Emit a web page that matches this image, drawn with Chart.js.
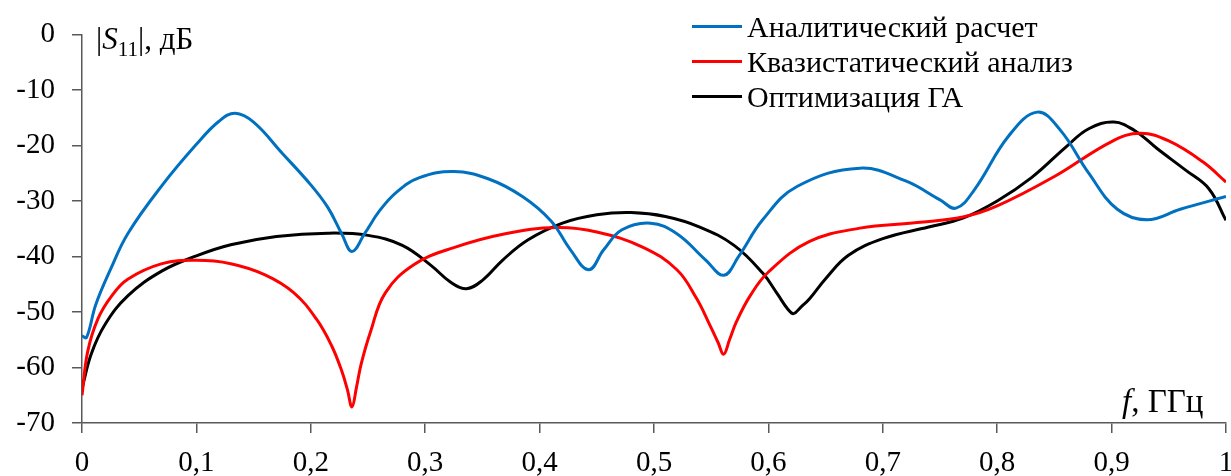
<!DOCTYPE html>
<html>
<head>
<meta charset="utf-8">
<script src="https://cdn.jsdelivr.net/npm/chart.js@4/dist/chart.umd.min.js"></script>
<style>
  body { margin: 0; background: #fff; }
  #wrap { position: relative; width: 1231px; height: 476px; font-family: "Liberation Serif", "Times New Roman", serif; color: #000; }
  #chart { position: absolute; left: 0; top: 0; }
  .ttl { position: absolute; font-size: 31px; line-height: 1; white-space: nowrap; }
  #legend { position: absolute; left: 692px; top: 9px; }
  .row { height: 35px; display: flex; align-items: center; font-size: 30px; white-space: nowrap; }
  .row span.ln { display: inline-block; width: 50px; height: 3px; margin-right: 5px; }
</style>
</head>
<body>
<div id="wrap">
  <canvas id="chart" width="1231" height="476"></canvas>
  <div class="ttl" id="ytitle" style="left:96px; top:23px;">|<i>S</i><sub style="font-size:21px">11</sub>|, дБ</div>
  <div class="ttl" id="xtitle" style="left:1122px; top:385px; font-size:33px;"><i>f</i>, ГГц</div>
  <div id="legend"></div>
</div>
<script>
var seriesNames = ["Аналитический расчет", "Квазистатический анализ", "Оптимизация ГА"];
var seriesColors = ["#0070C0", "#FF0000", "#000000"];

var xTickLabels = ["0", "0,1", "0,2", "0,3", "0,4", "0,5", "0,6", "0,7", "0,8", "0,9", "1"];
var yTickLabels = ["-70", "-60", "-50", "-40", "-30", "-20", "-10", "0"];

// аналитический расчет
var analyticF = [0, 0.004, 0.012, 0.025, 0.04, 0.07, 0.1, 0.12, 0.134, 0.15,
    0.175, 0.2, 0.215, 0.227, 0.236, 0.247, 0.26, 0.275, 0.295, 0.325,
    0.355, 0.385, 0.41, 0.427, 0.443, 0.456, 0.472, 0.497, 0.52, 0.545,
    0.561, 0.574, 0.595, 0.625, 0.68, 0.72, 0.75, 0.764, 0.78, 0.81,
    0.835, 0.855, 0.88, 0.905, 0.931, 0.96, 1];
var analyticS = [-54.3, -54.6, -48.7, -42.3, -35.9, -27.2, -19.8, -15.6, -14.2, -15.8,
    -21.4, -27.1, -31.2, -35.9, -39.1, -35.9, -31.8, -28.4, -25.8, -24.7,
    -26.0, -29.2, -33.6, -38.8, -42.4, -38.8, -35.2, -34.0, -35.9, -40.6,
    -43.4, -40.0, -33.4, -27.4, -24.1, -26.4, -29.8, -31.3, -28.0, -18.3,
    -14.0, -17.2, -25.0, -31.5, -33.4, -31.5, -29.2];

// квазистатический анализ
var quasiF = [0, 0.005, 0.014, 0.026, 0.04, 0.07, 0.1, 0.13, 0.16, 0.185,
    0.205, 0.218, 0.227, 0.232, 0.236, 0.24, 0.244, 0.252, 0.265, 0.29,
    0.325, 0.37, 0.415, 0.45, 0.49, 0.52, 0.537, 0.548, 0.556, 0.561,
    0.566, 0.572, 0.584, 0.6, 0.636, 0.68, 0.73, 0.77, 0.8, 0.85,
    0.9, 0.925, 0.95, 0.98, 1];
var quasiS = [-65.0, -57.1, -51.2, -47.1, -44.1, -41.3, -40.7, -41.3, -43.3, -46.5,
    -51.3, -56.0, -60.6, -64.0, -67.1, -63.5, -59.4, -53.7, -46.6, -41.5,
    -38.4, -35.9, -34.8, -35.6, -38.3, -42.4, -47.5, -52.0, -55.5, -57.6,
    -55.0, -51.8, -47.1, -42.8, -37.3, -34.9, -33.9, -32.9, -30.9, -25.6,
    -19.3, -17.8, -19.2, -23.0, -26.6];

// оптимизация ГА
var gaF = [0, 0.008, 0.02, 0.04, 0.07, 0.1, 0.13, 0.17, 0.215, 0.25,
    0.28, 0.305, 0.322, 0.336, 0.35, 0.368, 0.39, 0.42, 0.45, 0.48,
    0.51, 0.54, 0.57, 0.595, 0.608, 0.617, 0.622, 0.628, 0.636, 0.65,
    0.67, 0.7, 0.74, 0.77, 0.8, 0.83, 0.86, 0.88, 0.902, 0.92,
    0.94, 0.965, 0.985, 1];
var gaS = [-63.8, -57.6, -52.3, -47.1, -42.6, -39.9, -37.9, -36.4, -35.8, -36.2,
    -38.0, -41.6, -44.6, -45.8, -44.3, -40.6, -37.0, -34.0, -32.5, -32.1,
    -32.8, -34.7, -38.0, -43.0, -46.8, -49.5, -50.3, -49.2, -47.6, -44.0,
    -39.8, -36.8, -34.7, -33.1, -30.0, -25.8, -20.3, -17.0, -15.8, -17.3,
    -20.6, -24.5, -27.8, -33.5];

function toPoints(xs, ys) {
    var pts = [];
    for (var i = 0; i < xs.length; i++) {
        pts.push({ x: xs[i], y: ys[i] });
    }
    return pts;
}

var allF = [analyticF, quasiF, gaF];
var allS = [analyticS, quasiS, gaS];
var datasets = [];
for (var k = 0; k < seriesNames.length; k++) {
    datasets.push({
        label: seriesNames[k],
        data: toPoints(allF[k], allS[k]),
        borderColor: seriesColors[k],
        backgroundColor: seriesColors[k],
        borderWidth: 3,
        pointRadius: 0,
        tension: 0.4,
        fill: false
    });
}

var axisColor = '#595959';
var tickFont = { family: "'Liberation Serif', 'Times New Roman', serif", size: 29 };

var ctx = document.getElementById('chart').getContext('2d');
var myChart = new Chart(ctx, {
    type: 'line',
    data: { datasets: datasets },
    options: {
        responsive: false,
        animation: false,
        layout: { padding: { top: 27, right: 5, left: 0, bottom: 0 } },
        plugins: { legend: { display: false }, tooltip: { enabled: false } },
        scales: {
            x: {
                type: 'linear',
                min: 0,
                max: 1,
                ticks: {
                    stepSize: 0.1,
                    color: '#000',
                    font: tickFont,
                    padding: 13,
                    maxRotation: 0,
                    callback: function (value, index) { return xTickLabels[index]; }
                },
                grid: { drawOnChartArea: false, drawTicks: true, tickLength: 10, color: axisColor, lineWidth: 1.5 },
                border: { color: axisColor, width: 1.5 },
                afterFit: function (scale) {
                    scale.height = 53;
                    scale.paddingLeft = 0;
                    scale.paddingRight = 0;
                }
            },
            y: {
                min: -70,
                max: 0,
                ticks: {
                    stepSize: 10,
                    color: '#000',
                    font: tickFont,
                    padding: 17,
                    callback: function (value, index) { return yTickLabels[index]; }
                },
                grid: { drawOnChartArea: false, drawTicks: true, tickLength: 10, color: axisColor, lineWidth: 1.5 },
                border: { color: axisColor, width: 1.5 },
                afterFit: function (scale) {
                    scale.width = 82;
                }
            }
        }
    }
});

// легенда справа сверху
var legendBox = document.getElementById('legend');
myChart.data.datasets.forEach(function (ds) {
    var row = document.createElement('div');
    row.className = 'row';
    var ln = document.createElement('span');
    ln.className = 'ln';
    ln.style.background = ds.borderColor;
    row.appendChild(ln);
    row.appendChild(document.createTextNode(ds.label));
    legendBox.appendChild(row);
});
</script>
</body>
</html>
